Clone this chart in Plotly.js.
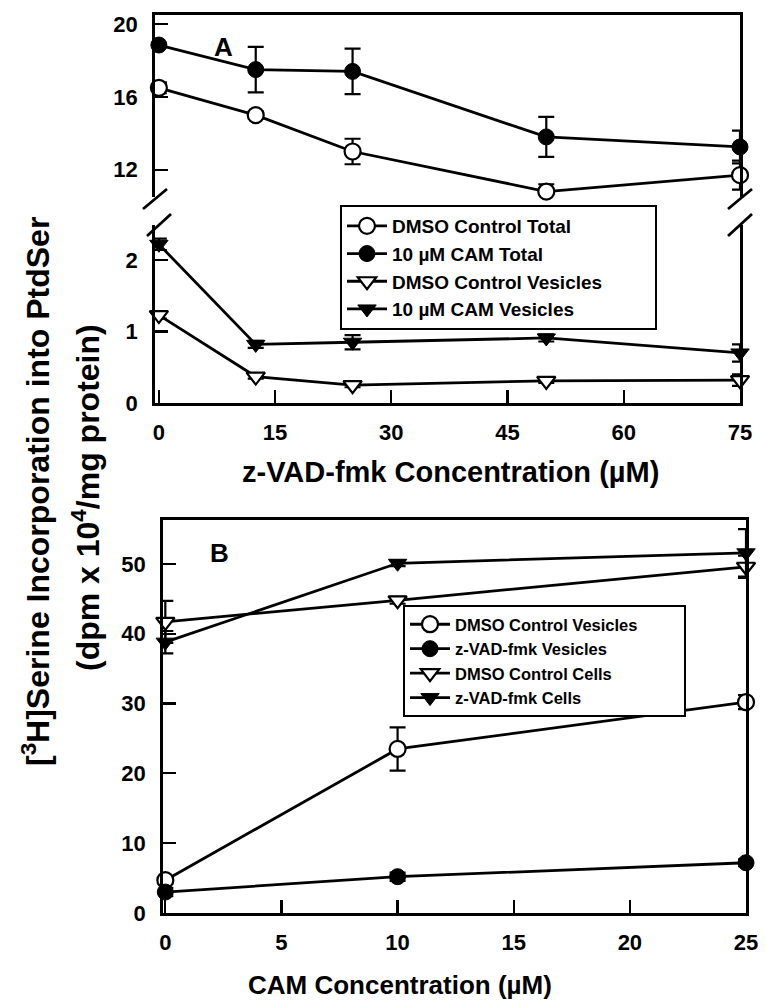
<!DOCTYPE html>
<html>
<head>
<meta charset="utf-8">
<script src="https://cdn.plot.ly/plotly-3.0.1.min.js"></script>
<style>html,body{margin:0;padding:0;background:#fff;}#chart{width:765px;height:1001px;}</style>
</head>
<body>
<div id="chart"></div>
<script>
// ---------- Data ----------
const zvadConc = [0, 12.5, 25, 50, 75];
const dmsoTotal = [16.5, 15.0, 13.0, 10.8, 11.7];
const dmsoTotalErr = [0.3, 0.2, 0.7, 0.4, 0.8];
const camTotal = [18.85, 17.5, 17.4, 13.8, 13.25];
const camTotalErr = [0, 1.25, 1.25, 1.1, 0.9];
const dmsoVesA = [1.23, 0.37, 0.25, 0.31, 0.32];
const dmsoVesAErr = [0.05, 0.03, 0.03, 0.03, 0.08];
const camVesA = [2.22, 0.82, 0.85, 0.91, 0.70];
const camVesAErr = [0.08, 0.05, 0.1, 0.05, 0.12];

const camConc = [0, 10, 25];
const dmsoVesB = [4.7, 23.5, 30.2];
const dmsoVesBErr = [0.5, 3.1, 1.0];
const zvadVesB = [3.0, 5.2, 7.2];
const zvadVesBErr = [0.6, 0.6, 0.5];
const dmsoCellsB = [41.7, 44.8, 49.6];
const dmsoCellsBErr = [3.0, 0.5, 1.6];
const zvadCellsB = [38.8, 50.1, 51.6];
const zvadCellsBErr = [1.6, 0.4, 3.4];

const namesA = ['DMSO Control Total', '10 µM CAM Total', 'DMSO Control Vesicles', '10 µM CAM Vesicles'];
const namesB = ['DMSO Control Vesicles', 'z-VAD-fmk Vesicles', 'DMSO Control Cells', 'z-VAD-fmk Cells'];

const ticksAx = [0, 15, 30, 45, 60, 75];
const ticksAyTop = [12, 16, 20];
const ticksAyBot = [0, 1, 2];
const ticksBx = [0, 5, 10, 15, 20, 25];
const ticksBy = [0, 10, 20, 30, 40, 50];

// ---------- Layout helpers ----------
const W = 765, H = 1001;
const px = x => x / W;
const py = y => 1 - y / H;
const FONT = 'Liberation Sans, Arial, Helvetica, sans-serif';
const LW = 2.8;
// widen the legend boxes (reference boxes have extra room on the right)
const pad = (s, n) => s + '\u00A0'.repeat(n);

const openC = {symbol: 'circle', size: 16, color: '#fff', line: {color: '#000', width: 2.2}};
const fillC = {symbol: 'circle', size: 16, color: '#000', line: {color: '#000', width: 1}};
const openT = {symbol: 'triangle-down', size: 16, color: '#fff', line: {color: '#000', width: 2.2}};
const fillT = {symbol: 'triangle-down', size: 16, color: '#000', line: {color: '#000', width: 1}};

function tr(x, y, err, name, marker, xa, ya, leg) {
  return {
    x: x, y: y, name: name, type: 'scatter', mode: 'lines+markers',
    xaxis: xa, yaxis: ya, legend: leg, cliponaxis: false,
    line: {color: '#000', width: LW}, marker: marker,
    error_y: {type: 'data', array: err, visible: true, color: '#000', thickness: 2.2, width: 8}
  };
}

const data = [
  tr(zvadConc, dmsoTotal, dmsoTotalErr, namesA[0], openC, 'x2', 'y2', 'legend'),
  tr(zvadConc, camTotal, camTotalErr, namesA[1], fillC, 'x2', 'y2', 'legend'),
  tr(zvadConc, dmsoVesA, dmsoVesAErr, pad(namesA[2], 9), openT, 'x', 'y', 'legend'),
  tr(zvadConc, camVesA, camVesAErr, namesA[3], fillT, 'x', 'y', 'legend'),
  tr(camConc, dmsoVesB, dmsoVesBErr, pad(namesB[0], 9), openC, 'x3', 'y3', 'legend2'),
  tr(camConc, zvadVesB, zvadVesBErr, namesB[1], fillC, 'x3', 'y3', 'legend2'),
  tr(camConc, dmsoCellsB, dmsoCellsBErr, namesB[2], openT, 'x3', 'y3', 'legend2'),
  tr(camConc, zvadCellsB, zvadCellsBErr, namesB[3], fillT, 'x3', 'y3', 'legend2')
];

const tickFont = {family: FONT, size: 22, color: '#000', weight: 'bold'};
const axBase = {
  showline: true, linecolor: '#000', linewidth: LW, showgrid: false, zeroline: false,
  ticks: 'inside', ticklen: 13, tickwidth: 2.2, tickcolor: '#000', tickfont: tickFont,
  fixedrange: true
};

const domAx = [px(155), px(740)];
const domBx = [px(163), px(746)];

// break marks on panel A axes
function slash(x1, y1, x2, y2) {
  return {type: 'line', xref: 'paper', yref: 'paper', x0: px(x1), y0: py(y1), x1: px(x2), y1: py(y2),
          line: {color: '#000', width: LW}};
}
const shapes = [
  slash(143, 209, 167, 189), slash(147, 236, 171, 214),
  slash(728, 209, 752, 189), slash(728, 236, 752, 214)
];

const annFont = s => ({family: FONT, size: s, color: '#000', weight: 'bold'});
const annotations = [
  {text: 'A', xref: 'paper', yref: 'paper', x: px(223), y: py(47), showarrow: false, font: annFont(26), xanchor: 'center', yanchor: 'middle'},
  {text: 'B', xref: 'paper', yref: 'paper', x: px(219), y: py(553), showarrow: false, font: annFont(26), xanchor: 'center', yanchor: 'middle'},
  {text: 'z-VAD-fmk Concentration (µM)', xref: 'paper', yref: 'paper', x: px(450), y: py(472), showarrow: false, font: annFont(29), xanchor: 'center', yanchor: 'middle'},
  {text: 'CAM Concentration (µM)', xref: 'paper', yref: 'paper', x: px(400), y: py(985), showarrow: false, font: annFont(26), xanchor: 'center', yanchor: 'middle'},
  {text: '[<sup>3</sup>H]Serine Incorporation into PtdSer', xref: 'paper', yref: 'paper', x: px(36), y: py(492), showarrow: false, textangle: -90, font: annFont(32), xanchor: 'center', yanchor: 'middle'},
  {text: '(dpm x 10<sup>4</sup>/mg protein)', xref: 'paper', yref: 'paper', x: px(86), y: py(498), showarrow: false, textangle: -90, font: annFont(32), xanchor: 'center', yanchor: 'middle'}
];

const layout = {
  width: W, height: H,
  margin: {l: 0, r: 0, t: 0, b: 0},
  paper_bgcolor: '#fff', plot_bgcolor: 'rgba(0,0,0,0)',
  font: {family: FONT, color: '#000'},
  showlegend: true,
  xaxis: Object.assign({}, axBase, {domain: domAx, anchor: 'y', range: [-0.5, 75], tickvals: ticksAx, ticklabelstandoff: 8}),
  yaxis: Object.assign({}, axBase, {domain: [py(403), py(225)], anchor: 'x', range: [0, 2.49], tickvals: ticksAyBot, mirror: true, ticklabelstandoff: 10}),
  xaxis2: Object.assign({}, axBase, {domain: domAx, anchor: 'y2', matches: 'x', side: 'top', ticks: '', showticklabels: false}),
  yaxis2: Object.assign({}, axBase, {domain: [py(197), py(15)], anchor: 'x2', range: [10.5, 20.5], tickvals: ticksAyTop, mirror: true, ticklabelstandoff: 10}),
  xaxis3: Object.assign({}, axBase, {domain: domBx, anchor: 'y3', range: [-0.1, 25], tickvals: ticksBx, mirror: true, ticklabelstandoff: 8}),
  yaxis3: Object.assign({}, axBase, {domain: [py(913), py(520)], anchor: 'x3', range: [0, 56.3], tickvals: ticksBy, mirror: true, ticklabelstandoff: 10}),
  legend: {x: px(340), y: py(205), xanchor: 'left', yanchor: 'top', bgcolor: '#fff', bordercolor: '#000', borderwidth: 2,
           font: {family: FONT, size: 19, color: '#000', weight: 'bold'}, traceorder: 'normal', itemwidth: 40},
  legend2: {x: px(403), y: py(605), xanchor: 'left', yanchor: 'top', bgcolor: '#fff', bordercolor: '#000', borderwidth: 2,
           font: {family: FONT, size: 16.5, color: '#000', weight: 'bold'}, traceorder: 'normal', itemwidth: 40},
  shapes: shapes,
  annotations: annotations
};

Plotly.newPlot('chart', data, layout, {staticPlot: true, displayModeBar: false});
</script>
</body>
</html>
